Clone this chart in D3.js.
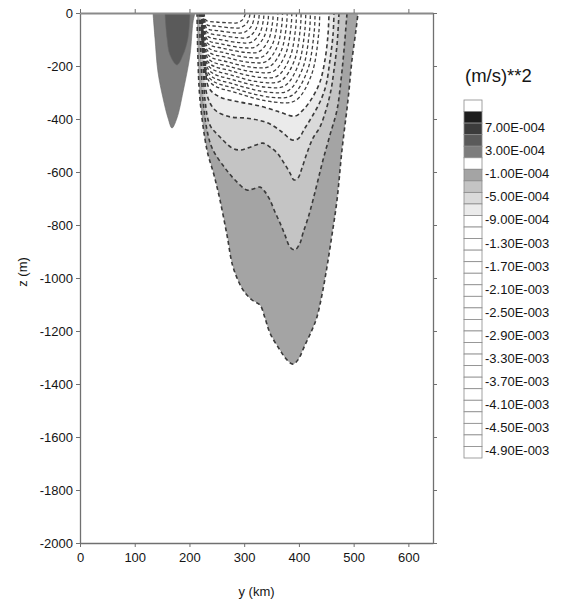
<!DOCTYPE html>
<html><head><meta charset="utf-8">
<script src="https://cdn.jsdelivr.net/npm/d3@7"></script>
<style>
body{margin:0;background:#fff}
svg{display:block}
text{font-family:"Liberation Sans",Arial,sans-serif;fill:#151515}
</style>
</head><body>
<svg id="chart" width="568" height="609"></svg>
<script>
// Axis ticks
const xTicks = [0, 100, 200, 300, 400, 500, 600];
const zTicks = [0, -200, -400, -600, -800, -1000, -1200, -1400, -1600, -1800, -2000];

// Legend: labelled contour levels, (m/s)**2
const legendLevels = [7e-4, 3e-4, -1e-4, -5e-4, -9e-4, -1.3e-3, -1.7e-3, -2.1e-3, -2.5e-3,
  -2.9e-3, -3.3e-3, -3.7e-3, -4.1e-3, -4.5e-3, -4.9e-3];
// Legend boxes, one per 2E-004 interval from 1.1E-003 downward
const legendFills = ["#ffffff", "#1e1e1e", "#3c3c3c", "#5a5a5a", "#7d7d7d", "#ffffff",
  "#a4a4a4", "#c4c4c4", "#dadada", "#ebebeb",
  "#ffffff", "#ffffff", "#ffffff", "#ffffff", "#ffffff", "#ffffff", "#ffffff", "#ffffff",
  "#ffffff", "#ffffff", "#ffffff", "#ffffff", "#ffffff", "#ffffff", "#ffffff", "#ffffff",
  "#ffffff", "#ffffff", "#ffffff", "#ffffff", "#ffffff"];

// Positive cell: contour lines [y (km), z (m)]
const posLevels = [1e-4, 3e-4];
const posFills = ["#7d7d7d", "#5a5a5a"];
const posLines = [
  [[133.4,0],[137,-94],[142.5,-223],[151.7,-321],[160.8,-396],[168.1,-434],[177.2,-396],[188.2,-298],[201,-158],[206.5,-34],[210.1,0]],
  [[155.3,0],[159,-94],[164.4,-158],[177.2,-196],[188.2,-158],[197.3,-94],[201,0]]
];

// Negative cell: shaded contour levels
const negLevels = [-1e-4, -3e-4, -5e-4, -7e-4, -9e-4];
const negFills = ["#a4a4a4", "#c4c4c4", "#dadada", "#ebebeb", "#ffffff"];
const negLines = [
  [[213.8,0],[215.6,-177],[219.3,-328],[232,-517],[244.8,-611],[255.8,-706],[268.6,-838],[279.6,-958],[297.8,-1045],[314.3,-1083],[328.9,-1102],[338,-1151],[347.2,-1208],[365.4,-1272],[378.2,-1309],[389.2,-1325],[398.3,-1309],[411.1,-1253],[424,-1196],[433,-1147],[442.1,-1064],[451.3,-958],[460.4,-838],[469.6,-706],[478.7,-517],[489.7,-328],[497,-177],[504.3,-64],[508,0]],
  [[217.4,0],[221.1,-177],[224.7,-328],[233.9,-460],[243,-517],[264.9,-585],[283.2,-630],[305.1,-668],[316.1,-664],[328.9,-657],[338,-675],[347.2,-706],[356.3,-751],[365.4,-792],[374.6,-838],[383.7,-883],[392.8,-894],[402,-868],[407.5,-830],[416.6,-774],[425.7,-706],[434.9,-630],[444,-555],[456.8,-460],[469.6,-366],[476.9,-253],[482.4,-140],[487.9,0]],
  [[219.3,0],[224.7,-177],[228.4,-328],[237.5,-423],[255.8,-468],[277.7,-509],[292.3,-517],[306.9,-509],[321.6,-498],[334.4,-491],[347.2,-506],[360,-528],[372.7,-566],[383.7,-604],[391,-630],[398.3,-623],[405.6,-585],[414.8,-528],[425.7,-472],[438.5,-430],[449.5,-366],[458.6,-291],[464.1,-215],[469.6,-121],[473.2,0]],
  [[221.1,0],[226.6,-177],[232,-309],[246.7,-366],[274.1,-392],[301.5,-396],[325.2,-404],[347.2,-419],[369.1,-449],[387.4,-479],[398.3,-475],[411.1,-434],[425.7,-385],[438.5,-336],[449.5,-272],[456.8,-177],[462.3,-83],[464.1,0]],
  [[222.9,0],[228.4,-177],[235.7,-283],[255.8,-317],[292.3,-336],[328.9,-351],[365.4,-374],[392.8,-389],[407.5,-366],[424,-321],[438.5,-260],[447.6,-177],[453.1,-83],[455,0]]
];

// Unshaded inner contours, -1.1E-003 to -4.3E-003
const innerLevels = [-1.1e-3, -1.3e-3, -1.5e-3, -1.7e-3, -1.9e-3, -2.1e-3, -2.3e-3, -2.5e-3, -2.7e-3,
  -2.9e-3, -3.1e-3, -3.3e-3, -3.5e-3, -3.7e-3, -3.9e-3, -4.1e-3, -4.3e-3];
const innerLines = [
  [[223.3,0],[235.2,-255],[287.6,-302],[355.2,-336],[394.0,-330],[422.8,-234],[436.3,-75],[438.0,0]],
  [[223.5,0],[234.9,-241],[285.2,-286],[350.0,-318],[387.3,-311],[414.9,-221],[427.9,-71],[429.5,0]],
  [[223.7,0],[234.6,-227],[282.8,-269],[344.9,-299],[380.6,-293],[407.0,-208],[419.4,-66],[421.0,0]],
  [[224.0,0],[234.3,-212],[280.4,-252],[339.8,-280],[373.9,-275],[399.1,-195],[411.0,-62],[412.5,0]],
  [[224.2,0],[234.1,-198],[278.0,-235],[334.6,-262],[367.2,-256],[391.3,-182],[402.6,-58],[404.0,0]],
  [[224.4,0],[233.8,-184],[275.6,-218],[329.5,-243],[360.5,-238],[383.4,-169],[394.2,-54],[395.5,0]],
  [[224.6,0],[233.5,-170],[273.2,-202],[324.3,-224],[353.8,-220],[375.5,-156],[385.7,-50],[387.0,0]],
  [[224.8,0],[233.2,-156],[270.8,-185],[319.2,-206],[347.0,-201],[367.6,-143],[377.3,-46],[378.5,0]],
  [[225.0,0],[233.0,-142],[268.4,-168],[314.1,-187],[340.3,-183],[359.7,-130],[368.9,-42],[370.0,0]],
  [[225.2,0],[232.7,-127],[266.0,-151],[308.9,-168],[333.6,-165],[351.9,-117],[360.4,-37],[361.5,0]],
  [[225.4,0],[232.4,-113],[263.6,-134],[303.8,-149],[326.9,-146],[344.0,-104],[352.0,-33],[353.0,0]],
  [[225.6,0],[232.2,-99],[261.2,-118],[298.6,-131],[320.2,-128],[336.1,-91],[343.6,-29],[344.5,0]],
  [[225.8,0],[231.9,-85],[258.8,-101],[293.5,-112],[313.5,-110],[328.2,-78],[335.2,-25],[336.0,0]],
  [[226.0,0],[231.6,-71],[256.4,-84],[288.4,-93],[306.7,-92],[320.3,-65],[326.7,-21],[327.5,0]],
  [[226.2,0],[231.3,-57],[254.0,-67],[283.2,-75],[300.0,-73],[312.5,-52],[318.3,-17],[319.0,0]],
  [[226.4,0],[231.1,-43],[251.6,-50],[278.1,-56],[293.3,-55],[304.6,-39],[309.9,-12],[310.5,0]],
  [[226.6,0],[230.8,-28],[249.2,-34],[273.0,-37],[286.6,-37],[296.7,-26],[301.4,-8],[302.0,0]]
];

const svg = d3.select("#chart");
const x = d3.scaleLinear().domain([0, 645]).range([80, 433]);
const y = d3.scaleLinear().domain([0, -2000]).range([13, 543]);

const line = d3.line()
  .x(d => x(d[0])).y(d => y(d[1]))
  .curve(d3.curveCatmullRom.alpha(0.5));

svg.append("clipPath").attr("id", "plotClip")
  .append("rect").attr("x", x(0)).attr("y", y(0))
  .attr("width", x(645) - x(0)).attr("height", y(-2000) - y(0));

const plot = svg.append("g").attr("clip-path", "url(#plotClip)");

// shaded bands, outermost first
negLines.forEach((pts, i) => {
  plot.append("path").attr("d", line(pts) + "Z").attr("fill", negFills[i]).attr("stroke", "none");
});
posLines.forEach((pts, i) => {
  plot.append("path").attr("d", line(pts) + "Z").attr("fill", posFills[i])
    .attr("stroke", "#666").attr("stroke-width", 0.6);
});

// dashed negative contour lines
negLines.forEach(pts => {
  plot.append("path").attr("d", line(pts)).attr("fill", "none")
    .attr("stroke", "#3a3a3a").attr("stroke-width", 1.6).attr("stroke-dasharray", "4,3");
});
innerLines.forEach(pts => {
  plot.append("path").attr("d", line(pts)).attr("fill", "none")
    .attr("stroke", "#3e3e3e").attr("stroke-width", 1.3).attr("stroke-dasharray", "3.5,2.5");
});

// axes
const axisColor = "#707070";
const plain = d => String(d);
function styleAxis(g) {
  g.selectAll("path.domain").attr("stroke", axisColor).attr("stroke-width", 1.3);
  g.selectAll(".tick line").attr("stroke", axisColor).attr("stroke-width", 1);
  g.selectAll(".tick text").attr("font-size", 13).attr("fill", "#151515")
    .attr("font-family", '"Liberation Sans", Arial, sans-serif');
}
svg.append("g").attr("transform", `translate(${x(0)},0)`)
  .call(d3.axisLeft(y).tickValues(zTicks).tickFormat(plain).tickSizeInner(4).tickSizeOuter(0).tickPadding(3))
  .call(styleAxis);
svg.append("g").attr("transform", `translate(0,${y(-2000)})`)
  .call(d3.axisBottom(x).tickValues(xTicks).tickFormat(plain).tickSizeInner(4).tickSizeOuter(0).tickPadding(6))
  .call(styleAxis);
svg.append("g").attr("transform", `translate(0,${y(0)})`)
  .call(d3.axisTop(x).tickValues(xTicks).tickSizeInner(4).tickSizeOuter(0).tickFormat(""))
  .call(styleAxis)
  .select("path.domain").attr("stroke", "#8a8a8a").attr("stroke-width", 2);
svg.append("g").attr("transform", `translate(${x(645)},0)`)
  .call(d3.axisRight(y).tickValues(zTicks).tickSizeInner(4).tickSizeOuter(0).tickFormat(""))
  .call(styleAxis);

// axis titles
svg.append("text").attr("x", (x(0) + x(645)) / 2).attr("y", 591)
  .attr("text-anchor", "middle").attr("dominant-baseline", "central")
  .attr("font-size", 13).text("y (km)");
svg.append("text").attr("transform", `translate(22,${y(-1000) - 6}) rotate(-90)`)
  .attr("text-anchor", "middle").attr("dominant-baseline", "central")
  .attr("font-size", 13).text("z (m)");

// legend
const fmt = v => {
  const [m, e] = v.toExponential(2).split("e");
  const n = +e;
  return m + "E" + (n < 0 ? "-" : "+") + String(Math.abs(n)).padStart(3, "0");
};
const legendY = d3.scaleLinear().domain([1.1e-3, -5.1e-3]).range([100, 458]);
const legend = svg.append("g");
svg.append("text").attr("x", 465).attr("y", 75).attr("dominant-baseline", "central")
  .attr("font-size", 18.5).text("(m/s)**2");
legendFills.forEach((c, i) => {
  const top = legendY(1.1e-3 - i * 2e-4), bot = legendY(1.1e-3 - (i + 1) * 2e-4);
  legend.append("rect").attr("x", 464).attr("y", top).attr("width", 18).attr("height", bot - top)
    .attr("fill", c).attr("stroke", "#8a8a8a").attr("stroke-width", 0.8);
});
legendLevels.forEach(v => {
  legend.append("text").attr("x", 485).attr("y", legendY(v) + 4.5)
    .attr("dominant-baseline", "central").attr("font-size", 13).text(fmt(v));
});
</script>
</body></html>
